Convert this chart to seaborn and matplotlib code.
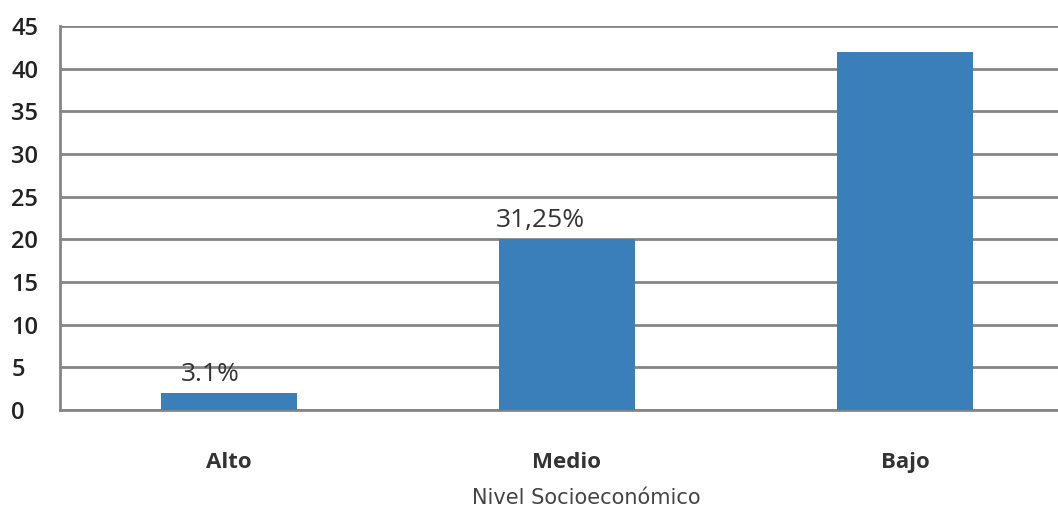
import matplotlib
matplotlib.use("Agg")
import matplotlib.pyplot as plt
import seaborn as sns
import pandas as pd

categories = ["Alto", "Medio", "Bajo"]
values = [2, 20, 42]
bar_labels = ["3.1%", "31,25%", ""]
yticks = [0, 5, 10, 15, 20, 25, 30, 35, 40, 45]
xlabel = "Nivel Socioeconómico"

sns.set_theme(style="white")
plt.rcParams["font.family"] = ["Open Sans", "DejaVu Sans"]

df = pd.DataFrame({"cat": categories, "val": values})

W, H = 1058, 517
fig = plt.figure(figsize=(W / 100, H / 100), dpi=100)
left = 60 / W
right_px = W
ax = fig.add_axes([left, 107 / H, (right_px - 60) / W, 384 / H])

sns.barplot(data=df, x="cat", y="val", color="#3a7fba", saturation=1,
            width=0.4, ax=ax, zorder=3, linewidth=0, edgecolor="none")

cat_w = 338
ax.set_xlim(-0.5, (right_px - 60) / cat_w - 0.5)
ax.set_ylim(0, 45)
ax.set_yticks(yticks)
ax.set_yticklabels([str(t) for t in yticks], fontsize=17, color="#222222",
                   fontweight="semibold")
for lbl in ax.get_yticklabels():
    lbl.set_horizontalalignment("left")
ax.tick_params(axis="y", length=0, pad=35)
ax.tick_params(axis="x", length=0, pad=30)
ax.set_xticks(range(len(categories)))
ax.set_xticklabels(categories, fontsize=16, fontweight="bold", color="#333333")

ax.grid(axis="y", color="#858585", linewidth=2, zorder=0)
ax.set_axisbelow(True)
for s in ["top", "right"]:
    ax.spines[s].set_visible(False)
for s in ["left", "bottom"]:
    ax.spines[s].set_color("#858585")
    ax.spines[s].set_linewidth(2)

ax.set_xlabel(xlabel, fontsize=15, color="#444444", labelpad=11,
              family=["DejaVu Sans"])
ax.xaxis.label.set_x((586 - 60) / (right_px - 60))
ax.set_ylabel("")

offsets = [-0.055, -0.08, 0]
for i, (v, t) in enumerate(zip(values, bar_labels)):
    if t:
        ax.text(i + offsets[i], v + 0.7, t, ha="center", va="bottom",
                fontsize=19, color="#333333", zorder=5)

fig.savefig("out.png", dpi=100)
